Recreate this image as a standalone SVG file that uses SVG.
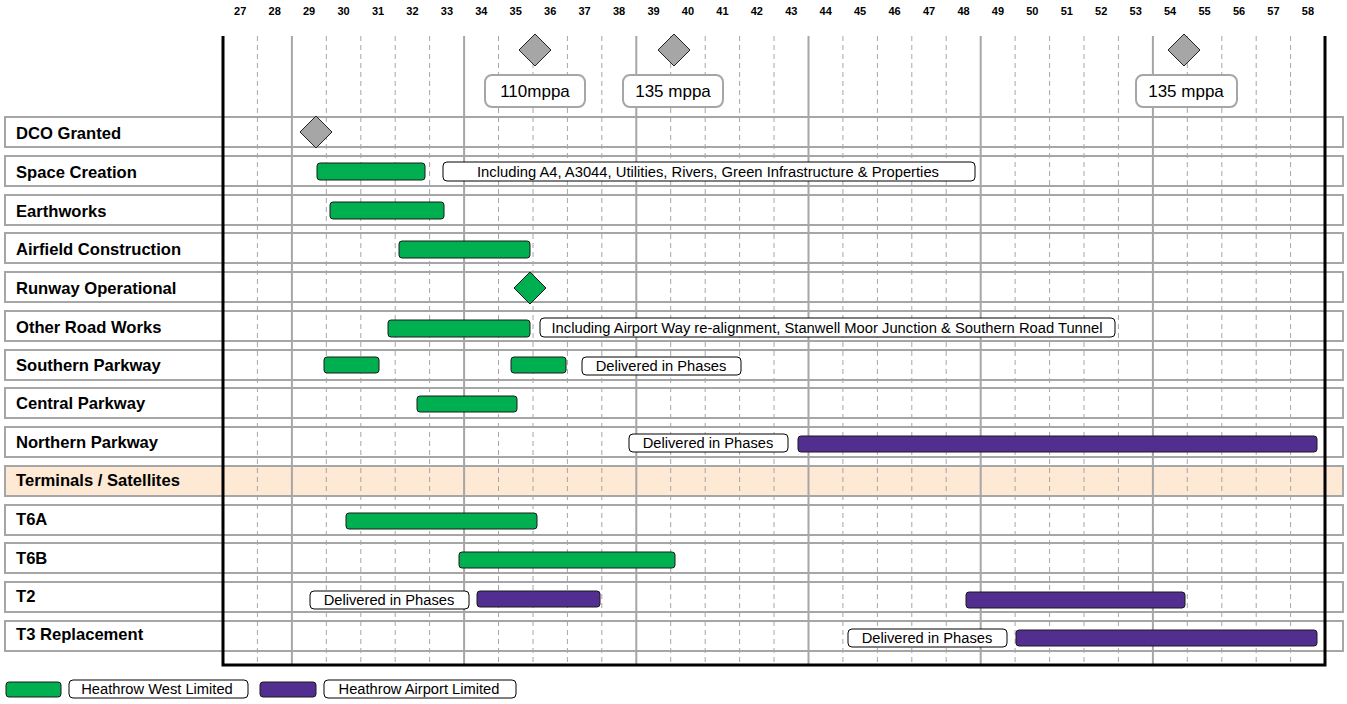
<svg xmlns="http://www.w3.org/2000/svg" width="1347" height="704" viewBox="0 0 1347 704">
<style>
.row{fill:none;stroke:#a6a6a6;stroke-width:2}
.rowt{fill:#fde9d4;stroke:#a6a6a6;stroke-width:2}
.gs{stroke:#a6a6a6;stroke-width:2}
.gd{stroke:#a6a6a6;stroke-width:1;stroke-dasharray:5,4}
.ax{stroke:#000;stroke-width:3;fill:none}
.yr{font-family:"Liberation Sans",Arial,sans-serif;font-weight:bold;font-size:11px;text-anchor:middle;fill:#000}
.lbl{font-family:"Liberation Sans",Arial,sans-serif;font-weight:bold;font-size:16.6px;fill:#000}
.g{fill:#00b050;stroke:#1a1a1a;stroke-width:1}
.p{fill:#532e91;stroke:#1a1a1a;stroke-width:1}
.note{fill:#fff;stroke:#000;stroke-width:1}
.nt{font-family:"Liberation Sans",Arial,sans-serif;font-size:14.7px;text-anchor:middle;fill:#000}
.ms{fill:#fff;stroke:#a6a6a6;stroke-width:2}
.mt{font-family:"Liberation Sans",Arial,sans-serif;font-size:17px;text-anchor:middle;fill:#000}
.dg{fill:#a6a6a6;stroke:#222;stroke-width:1}
.dgr{fill:#00b050;stroke:#1a1a1a;stroke-width:1}
</style>
<rect width="1347" height="704" fill="#fff"/>
<g id="rows">
<rect class="row" x="5" y="117" width="1338" height="30"/>
<rect class="row" x="5" y="156" width="1338" height="30"/>
<rect class="row" x="5" y="195" width="1338" height="30"/>
<rect class="row" x="5" y="233" width="1338" height="30"/>
<rect class="row" x="5" y="272" width="1338" height="30"/>
<rect class="row" x="5" y="311" width="1338" height="30"/>
<rect class="row" x="5" y="350" width="1338" height="30"/>
<rect class="row" x="5" y="388" width="1338" height="30"/>
<rect class="row" x="5" y="427" width="1338" height="30"/>
<rect class="rowt" x="5" y="466" width="1338" height="30"/>
<rect class="row" x="5" y="505" width="1338" height="30"/>
<rect class="row" x="5" y="543" width="1338" height="30"/>
<rect class="row" x="5" y="582" width="1338" height="30"/>
<rect class="row" x="5" y="621" width="1338" height="30"/>
</g>
<g id="grid">
<line class="gd" x1="257.4" y1="36" x2="257.4" y2="665"/>
<line class="gs" x1="291.9" y1="36" x2="291.9" y2="665"/>
<line class="gd" x1="326.3" y1="36" x2="326.3" y2="665"/>
<line class="gd" x1="360.8" y1="36" x2="360.8" y2="665"/>
<line class="gd" x1="395.2" y1="36" x2="395.2" y2="665"/>
<line class="gd" x1="429.6" y1="36" x2="429.6" y2="665"/>
<line class="gs" x1="464.1" y1="36" x2="464.1" y2="665"/>
<line class="gd" x1="498.5" y1="36" x2="498.5" y2="665"/>
<line class="gd" x1="533" y1="36" x2="533" y2="665"/>
<line class="gd" x1="567.4" y1="36" x2="567.4" y2="665"/>
<line class="gd" x1="601.8" y1="36" x2="601.8" y2="665"/>
<line class="gs" x1="636.3" y1="36" x2="636.3" y2="665"/>
<line class="gd" x1="670.7" y1="36" x2="670.7" y2="665"/>
<line class="gd" x1="705.2" y1="36" x2="705.2" y2="665"/>
<line class="gd" x1="739.6" y1="36" x2="739.6" y2="665"/>
<line class="gd" x1="774" y1="36" x2="774" y2="665"/>
<line class="gs" x1="808.5" y1="36" x2="808.5" y2="665"/>
<line class="gd" x1="842.9" y1="36" x2="842.9" y2="665"/>
<line class="gd" x1="877.4" y1="36" x2="877.4" y2="665"/>
<line class="gd" x1="911.8" y1="36" x2="911.8" y2="665"/>
<line class="gd" x1="946.2" y1="36" x2="946.2" y2="665"/>
<line class="gs" x1="980.7" y1="36" x2="980.7" y2="665"/>
<line class="gd" x1="1015.1" y1="36" x2="1015.1" y2="665"/>
<line class="gd" x1="1049.6" y1="36" x2="1049.6" y2="665"/>
<line class="gd" x1="1084" y1="36" x2="1084" y2="665"/>
<line class="gd" x1="1118.4" y1="36" x2="1118.4" y2="665"/>
<line class="gs" x1="1152.9" y1="36" x2="1152.9" y2="665"/>
<line class="gd" x1="1187.3" y1="36" x2="1187.3" y2="665"/>
<line class="gd" x1="1221.8" y1="36" x2="1221.8" y2="665"/>
<line class="gd" x1="1256.2" y1="36" x2="1256.2" y2="665"/>
<line class="gd" x1="1290.6" y1="36" x2="1290.6" y2="665"/>
<polyline class="ax" points="223,36 223,665 1325,665 1325,36"/>
</g>
<g id="axis-labels">
<text class="yr" x="240.2" y="15">27</text>
<text class="yr" x="274.7" y="15">28</text>
<text class="yr" x="309.1" y="15">29</text>
<text class="yr" x="343.5" y="15">30</text>
<text class="yr" x="378" y="15">31</text>
<text class="yr" x="412.4" y="15">32</text>
<text class="yr" x="446.9" y="15">33</text>
<text class="yr" x="481.3" y="15">34</text>
<text class="yr" x="515.7" y="15">35</text>
<text class="yr" x="550.2" y="15">36</text>
<text class="yr" x="584.6" y="15">37</text>
<text class="yr" x="619.1" y="15">38</text>
<text class="yr" x="653.5" y="15">39</text>
<text class="yr" x="687.9" y="15">40</text>
<text class="yr" x="722.4" y="15">41</text>
<text class="yr" x="756.8" y="15">42</text>
<text class="yr" x="791.3" y="15">43</text>
<text class="yr" x="825.7" y="15">44</text>
<text class="yr" x="860.1" y="15">45</text>
<text class="yr" x="894.6" y="15">46</text>
<text class="yr" x="929" y="15">47</text>
<text class="yr" x="963.5" y="15">48</text>
<text class="yr" x="997.9" y="15">49</text>
<text class="yr" x="1032.3" y="15">50</text>
<text class="yr" x="1066.8" y="15">51</text>
<text class="yr" x="1101.2" y="15">52</text>
<text class="yr" x="1135.7" y="15">53</text>
<text class="yr" x="1170.1" y="15">54</text>
<text class="yr" x="1204.5" y="15">55</text>
<text class="yr" x="1239" y="15">56</text>
<text class="yr" x="1273.4" y="15">57</text>
<text class="yr" x="1307.9" y="15">58</text>
</g>
<g id="milestone-110">
<polygon class="dg" points="535,34 551,50 535,66 519,50"/>
<rect class="ms" x="485" y="75" width="100" height="32" rx="7"/>
<text class="mt" x="535" y="97">110mppa</text>
</g>
<g id="milestone-135a">
<polygon class="dg" points="674,34 690,50 674,66 658,50"/>
<rect class="ms" x="623" y="75" width="100" height="32" rx="7"/>
<text class="mt" x="673" y="97">135 mppa</text>
</g>
<g id="milestone-135b">
<polygon class="dg" points="1184,34 1200,50 1184,66 1168,50"/>
<rect class="ms" x="1136" y="75" width="101" height="32" rx="7"/>
<text class="mt" x="1186" y="97">135 mppa</text>
</g>
<g id="dco-granted">
<text class="lbl" x="16" y="139">DCO Granted</text>
<polygon class="dg" points="316,116 332,132 316,148 300,132"/>
</g>
<g id="space-creation">
<text class="lbl" x="16" y="178">Space Creation</text>
<rect class="g" x="317" y="163" width="108" height="17" rx="3"/>
<rect class="note" x="443" y="162" width="532" height="19" rx="4"/>
<text class="nt" x="708" y="177" textLength="462" lengthAdjust="spacingAndGlyphs">Including A4, A3044, Utilities, Rivers, Green Infrastructure &amp; Properties</text>
</g>
<g id="earthworks">
<text class="lbl" x="16" y="217">Earthworks</text>
<rect class="g" x="330" y="202" width="114" height="17" rx="3"/>
</g>
<g id="airfield-construction">
<text class="lbl" x="16" y="255">Airfield Construction</text>
<rect class="g" x="399" y="241" width="131" height="17" rx="3"/>
</g>
<g id="runway-operational">
<text class="lbl" x="16" y="294">Runway Operational</text>
<polygon class="dgr" points="530,272 546,288 530,304 514,288"/>
</g>
<g id="other-road-works">
<text class="lbl" x="16" y="333">Other Road Works</text>
<rect class="g" x="388" y="320" width="142" height="17" rx="3"/>
<rect class="note" x="540" y="318" width="575" height="19" rx="4"/>
<text class="nt" x="827" y="333" textLength="551" lengthAdjust="spacingAndGlyphs">Including Airport Way re-alignment, Stanwell Moor Junction &amp; Southern Road Tunnel</text>
</g>
<g id="southern-parkway">
<text class="lbl" x="16" y="371">Southern Parkway</text>
<rect class="g" x="324" y="357" width="55" height="16" rx="3"/>
<rect class="g" x="511" y="357" width="55" height="16" rx="3"/>
<rect class="note" x="582" y="357" width="159" height="18" rx="4"/>
<text class="nt" x="661" y="371">Delivered in Phases</text>
</g>
<g id="central-parkway">
<text class="lbl" x="16" y="409">Central Parkway</text>
<rect class="g" x="417" y="396" width="100" height="16" rx="3"/>
</g>
<g id="northern-parkway">
<text class="lbl" x="16" y="448">Northern Parkway</text>
<rect class="note" x="629" y="434" width="159" height="18" rx="4"/>
<text class="nt" x="708" y="448">Delivered in Phases</text>
<rect class="p" x="798" y="436" width="519" height="16" rx="3"/>
</g>
<g id="terminals-satellites">
<text class="lbl" x="16" y="486">Terminals / Satellites</text>
</g>
<g id="t6a">
<text class="lbl" x="16" y="525">T6A</text>
<rect class="g" x="346" y="513" width="191" height="16" rx="3"/>
</g>
<g id="t6b">
<text class="lbl" x="16" y="564">T6B</text>
<rect class="g" x="459" y="552" width="216" height="16" rx="3"/>
</g>
<g id="t2">
<text class="lbl" x="16" y="602">T2</text>
<rect class="note" x="310" y="591" width="159" height="18" rx="4"/>
<text class="nt" x="389" y="605">Delivered in Phases</text>
<rect class="p" x="477" y="591" width="123" height="16" rx="3"/>
<rect class="p" x="966" y="592" width="219" height="16" rx="3"/>
</g>
<g id="t3-replacement">
<text class="lbl" x="16" y="640">T3 Replacement</text>
<rect class="note" x="848" y="629" width="159" height="18" rx="4"/>
<text class="nt" x="927" y="643">Delivered in Phases</text>
<rect class="p" x="1016" y="630" width="301" height="16" rx="3"/>
</g>
<g id="legend">
<rect class="g" x="6" y="682" width="55" height="15" rx="3"/>
<rect class="note" x="69" y="680" width="179" height="18" rx="4"/>
<text class="nt" x="157" y="694">Heathrow West Limited</text>
<rect class="p" x="260" y="682" width="56" height="15" rx="3"/>
<rect class="note" x="324" y="680" width="192" height="18" rx="4"/>
<text class="nt" x="419" y="694">Heathrow Airport Limited</text>
</g>
</svg>
